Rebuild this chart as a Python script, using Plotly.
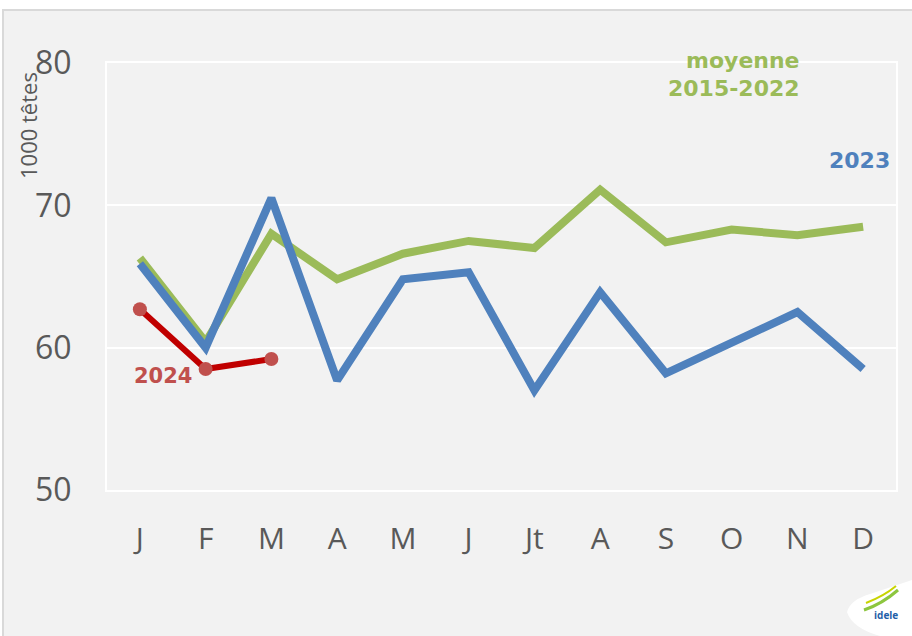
import plotly.graph_objects as go

# Monthly slaughter volumes, in thousand head
months = ["J", "F", "M", "A", "M ", "J ", "Jt", "A ", "S", "O", "N", "D"]
tick_text = ["J", "F", "M", "A", "M", "J", "Jt", "A", "S", "O", "N", "D"]
avg_2015_2022 = [66.3, 60.4, 68.0, 64.8, 66.6, 67.5, 67.0, 71.1, 67.4, 68.3, 67.9, 68.5]
y2023 = [65.9, 60.0, 70.5, 57.7, 64.8, 65.3, 57.0, 63.9, 58.2, 60.3, 62.5, 58.5]
y2024 = [62.7, 58.5, 59.2]

GREEN = "#9bbb59"
BLUE = "#4f81bd"
RED = "#c00000"
RED_MK = "#c0504d"
GREY = "#595959"
LABEL_FONT = "DejaVu Sans"

fig = go.Figure()
fig.add_trace(go.Scatter(x=months, y=avg_2015_2022, mode="lines",
                         line=dict(color=GREEN, width=8), name="moyenne 2015-2022"))
fig.add_trace(go.Scatter(x=months, y=y2023, mode="lines",
                         line=dict(color=BLUE, width=8), name="2023"))
fig.add_trace(go.Scatter(x=months[:len(y2024)], y=y2024, mode="lines+markers",
                         line=dict(color=RED, width=6),
                         marker=dict(color=RED_MK, size=14, line=dict(width=0)),
                         name="2024"))

# plot area: x 107..896, y 63..490 px
L, R, T, B = 107, 16, 63, 146
W, H = 912 - L - R, 636 - T - B

def px(x):
    return (x - L) / W

def py(y):
    return (636 - B - y) / H

shapes = [
    # grey card behind the chart
    dict(type="rect", xref="paper", yref="paper", layer="below",
         x0=px(3), x1=px(915), y0=py(640), y1=py(10),
         fillcolor="#f2f2f2", line=dict(color="#d9d9d9", width=2)),
    # logo badge
    dict(type="path", xref="paper", yref="paper", layer="above",
         path=f"M {px(847)},{py(612)} Q {px(850)},{py(600)} {px(870)},{py(594)} "
              f"L {px(912)},{py(580)} L {px(912)},{py(636)} L {px(880)},{py(636)} "
              f"Q {px(852)},{py(628)} {px(847)},{py(612)} Z",
         fillcolor="white", line=dict(width=0)),
    dict(type="path", xref="paper", yref="paper", layer="above",
         path=f"M {px(864)},{py(610)} Q {px(882)},{py(604)} {px(898)},{py(590)}",
         line=dict(color="#8dc63f", width=3)),
    dict(type="path", xref="paper", yref="paper", layer="above",
         path=f"M {px(866)},{py(603)} Q {px(884)},{py(596)} {px(896)},{py(586)}",
         line=dict(color="#c8d400", width=2)),
]

annotations = [
    dict(text="moyenne", x=px(802), y=py(60), xanchor="right", yanchor="middle"),
    dict(text="2015-2022", x=px(802), y=py(89), xanchor="right", yanchor="middle"),
    dict(text="2023", x=px(892), y=py(160), xanchor="right", yanchor="middle"),
    dict(text="2024", x=px(132), y=py(376), xanchor="left", yanchor="middle"),
]
colors = [GREEN, GREEN, BLUE, RED_MK]
for a, c in zip(annotations, colors):
    a.update(xref="paper", yref="paper", showarrow=False,
             font=dict(family=LABEL_FONT, size=22 if c != RED_MK else 21,
                       color=c, weight="bold"))

annotations += [
    dict(text="1000 têtes", x=px(28), y=py(126), xref="paper", yref="paper",
         xanchor="center", yanchor="middle", textangle=-90, showarrow=False,
         font=dict(family="Open Sans", size=22, color=GREY)),
    dict(text="idele", x=px(900), y=py(615), xref="paper", yref="paper",
         xanchor="right", yanchor="middle", showarrow=False,
         font=dict(family="Open Sans", size=10, color="#1f5fa8", weight="bold")),
]

fig.update_layout(
    width=912, height=636,
    margin=dict(l=L, r=R, t=T, b=B),
    paper_bgcolor="white", plot_bgcolor="#f2f2f2",
    showlegend=False,
    shapes=shapes, annotations=annotations,
    xaxis=dict(type="category", categoryorder="array", categoryarray=months,
               tickmode="array", tickvals=months, ticktext=tick_text,
               range=[-0.5, 11.5], showgrid=False, zeroline=False,
               showline=True, linecolor="white", linewidth=2, mirror=True,
               ticks="", ticklabelstandoff=21,
               tickfont=dict(family="Open Sans", size=30, color=GREY)),
    yaxis=dict(range=[50, 80], tickvals=[50, 60, 70, 80],
               showgrid=True, gridcolor="white", gridwidth=2, zeroline=False,
               showline=True, linecolor="white", linewidth=2, mirror=True,
               ticks="", ticklabelstandoff=27,
               tickfont=dict(family="Open Sans", size=32, color=GREY)),
)

fig.write_html("out.html")
